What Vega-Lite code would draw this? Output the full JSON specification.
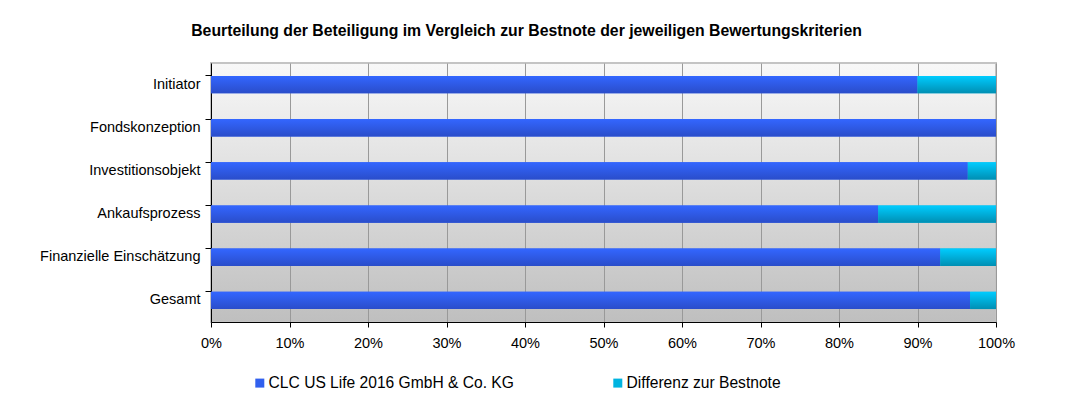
{
  "$schema": "https://vega.github.io/schema/vega-lite/v6.json",
  "width": 785,
  "height": 259,
  "autosize": {"type": "none"},
  "padding": {"left": 211, "top": 63, "right": 69, "bottom": 92},
  "background": "white",
  "title": {
    "text": "Beurteilung der Beteiligung im Vergleich zur Bestnote der jeweiligen Bewertungskriterien",
    "font": "Liberation Sans",
    "fontSize": 15.8,
    "fontWeight": "bold",
    "color": "black",
    "anchor": "middle",
    "dx": -77,
    "offset": 23
  },
  "config": {
    "font": "Liberation Sans",
    "view": {
      "fill": {
        "gradient": "linear",
        "x1": 0, "y1": 0, "x2": 0, "y2": 1,
        "stops": [
          {"offset": 0, "color": "#f8f8f8"},
          {"offset": 1, "color": "#bfbfbf"}
        ]
      },
      "stroke": "#c4c4c4",
      "strokeWidth": 2
    }
  },
  "data": {
    "values": [
      {"kriterium": "Initiator", "wert": 0.90},
      {"kriterium": "Fondskonzeption", "wert": 1.0},
      {"kriterium": "Investitionsobjekt", "wert": 0.964},
      {"kriterium": "Ankaufsprozess", "wert": 0.85},
      {"kriterium": "Finanzielle Einschätzung", "wert": 0.929},
      {"kriterium": "Gesamt", "wert": 0.967}
    ]
  },
  "encoding": {
    "y": {
      "field": "kriterium",
      "type": "nominal",
      "sort": null,
      "scale": {"paddingInner": 0.6, "paddingOuter": 0.3},
      "axis": {
        "title": null,
        "bandPosition": 0,
        "domainColor": "black",
        "tickColor": "black",
        "tickSize": 6,
        "labelFontSize": 14.5,
        "labelColor": "black",
        "labelPadding": 5,
        "labelFont": "Liberation Sans"
      }
    },
    "x": {
      "field": "wert",
      "type": "quantitative",
      "stack": null,
      "scale": {"domain": [0, 1], "nice": false, "zero": true},
      "axis": {
        "title": null,
        "values": [0, 0.1, 0.2, 0.3, 0.4, 0.5, 0.6, 0.7, 0.8, 0.9, 1],
        "format": ".0%",
        "grid": true,
        "gridColor": "#999999",
        "gridWidth": 1,
        "domainColor": "black",
        "tickColor": "black",
        "tickSize": 5,
        "labelFontSize": 14.5,
        "labelColor": "black",
        "labelPadding": 9,
        "labelFlush": false,
        "labelFont": "Liberation Sans"
      }
    }
  },
  "layer": [
    {
      "mark": {"type": "bar"},
      "encoding": {
        "color": {
          "datum": "CLC US Life 2016 GmbH & Co. KG",
          "scale": {
            "domain": ["CLC US Life 2016 GmbH & Co. KG", "Differenz zur Bestnote"],
            "range": ["#3160ee", "#00b4e0"]
          },
          "legend": {
            "title": null,
            "orient": "none",
            "legendX": 41,
            "legendY": 312,
            "direction": "horizontal",
            "symbolType": "square",
            "symbolSize": 81,
            "symbolStrokeWidth": 0,
            "labelFontSize": 15.6,
            "labelColor": "black",
            "labelFont": "Liberation Sans",
            "labelOffset": 1,
            "columnPadding": 96,
            "labelLimit": 400
          }
        }
      }
    },
    {
      "mark": {"type": "bar"},
      "encoding": {
        "x2": {"datum": 1},
        "color": {"datum": "Differenz zur Bestnote"}
      }
    },
    {
      "mark": {
        "type": "bar",
        "fill": {
          "gradient": "linear",
          "x1": 0, "y1": 0, "x2": 0, "y2": 1,
          "stops": [
            {"offset": 0, "color": "#3366ff"},
            {"offset": 1, "color": "#2a4dca"}
          ]
        }
      }
    },
    {
      "mark": {
        "type": "bar",
        "fill": {
          "gradient": "linear",
          "x1": 0, "y1": 0, "x2": 0, "y2": 1,
          "stops": [
            {"offset": 0, "color": "#00ccff"},
            {"offset": 1, "color": "#008fb3"}
          ]
        }
      },
      "encoding": {
        "x2": {"datum": 1}
      }
    }
  ]
}
